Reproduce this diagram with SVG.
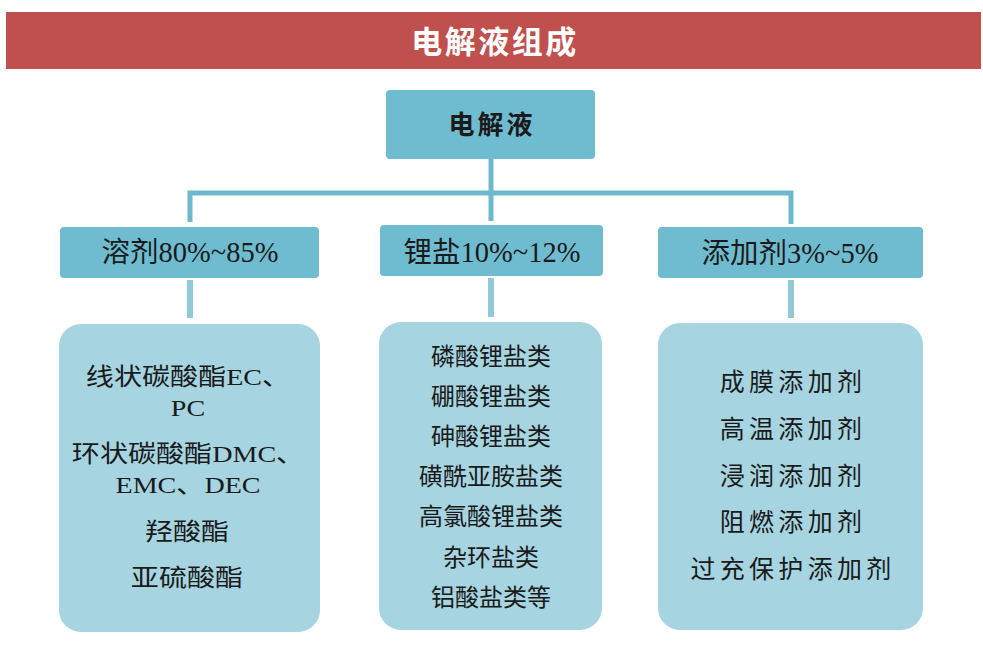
<svg xmlns="http://www.w3.org/2000/svg" width="983" height="654" viewBox="0 0 983 654">
<style>
.cjk{font-family:"Liberation Serif","Noto Sans CJK SC",serif;fill:#1a1a1a;text-anchor:middle}
.sans{font-family:"Noto Sans CJK SC","Liberation Sans",sans-serif;fill:#1a1a1a;text-anchor:middle}
.hd{fill:#6FBCD0}
.lf{fill:#A6D5E1}
.c1{stroke:#6DB8CD;stroke-width:5;fill:none}
.c2{stroke:#93C8D9;stroke-width:6;fill:none}
</style>
<rect width="983" height="654" fill="#ffffff"/>
<g id="title">
<rect x="6" y="12" width="975" height="57" fill="#C0504D"/>
<text x="495" y="53" class="sans" style="fill:#ffffff;font-size:31px;font-weight:bold;letter-spacing:2.5px">电解液组成</text>
</g>
<g id="connectors">
<path class="c1" d="M491 159 V193 M190 222 V193 H791 V224 M491 193 V221"/>
<path class="c2" d="M190 280 V318 M491 278 V317 M791 280 V318"/>
</g>
<g id="root">
<rect class="hd" x="386" y="90" width="209" height="69" rx="4"/>
<text x="492" y="134" class="sans" style="font-size:26px;font-weight:bold;letter-spacing:3px">电解液</text>
</g>
<g id="solvent">
<rect class="hd" x="60" y="227" width="259" height="51" rx="4"/>
<text x="190" y="262" class="cjk" style="font-size:28.5px">溶剂80%~85%</text>
</g>
<g id="salt">
<rect class="hd" x="380" y="225" width="223" height="51" rx="4"/>
<text x="492" y="262" class="cjk" style="font-size:28.5px">锂盐10%~12%</text>
</g>
<g id="additive">
<rect class="hd" x="658" y="227" width="265" height="51" rx="4"/>
<text x="790" y="263" class="cjk" style="font-size:28.5px">添加剂3%~5%</text>
</g>
<g id="solvent-list">
<rect class="lf" x="59" y="324" width="261" height="308" rx="22"/>
<g class="cjk" style="font-size:24px">
<text transform="translate(188,385) scale(1.17,1)">线状碳酸酯EC、</text>
<text transform="translate(188,416) scale(1.17,1)">PC</text>
<text transform="translate(188,462) scale(1.17,1)">环状碳酸酯DMC、</text>
<text transform="translate(188,493) scale(1.17,1)">EMC、DEC</text>
<text transform="translate(187,540) scale(1.17,1)">羟酸酯</text>
<text transform="translate(187,586) scale(1.17,1)">亚硫酸酯</text>
</g>
</g>
<g id="salt-list">
<rect class="lf" x="379" y="322" width="223" height="308" rx="22"/>
<g class="sans" style="font-size:24px">
<text x="491" y="365">磷酸锂盐类</text>
<text x="491" y="405">硼酸锂盐类</text>
<text x="491" y="445">砷酸锂盐类</text>
<text x="491" y="485">磺酰亚胺盐类</text>
<text x="491" y="525">高氯酸锂盐类</text>
<text x="491" y="566">杂环盐类</text>
<text x="491" y="606">铝酸盐类等</text>
</g>
</g>
<g id="additive-list">
<rect class="lf" x="658" y="323" width="265" height="307" rx="22"/>
<g class="sans" style="font-size:25px;letter-spacing:4.3px">
<text x="793" y="391">成膜添加剂</text>
<text x="793" y="438">高温添加剂</text>
<text x="793" y="485">浸润添加剂</text>
<text x="793" y="531">阻燃添加剂</text>
<text x="793" y="578">过充保护添加剂</text>
</g>
</g>
</svg>
